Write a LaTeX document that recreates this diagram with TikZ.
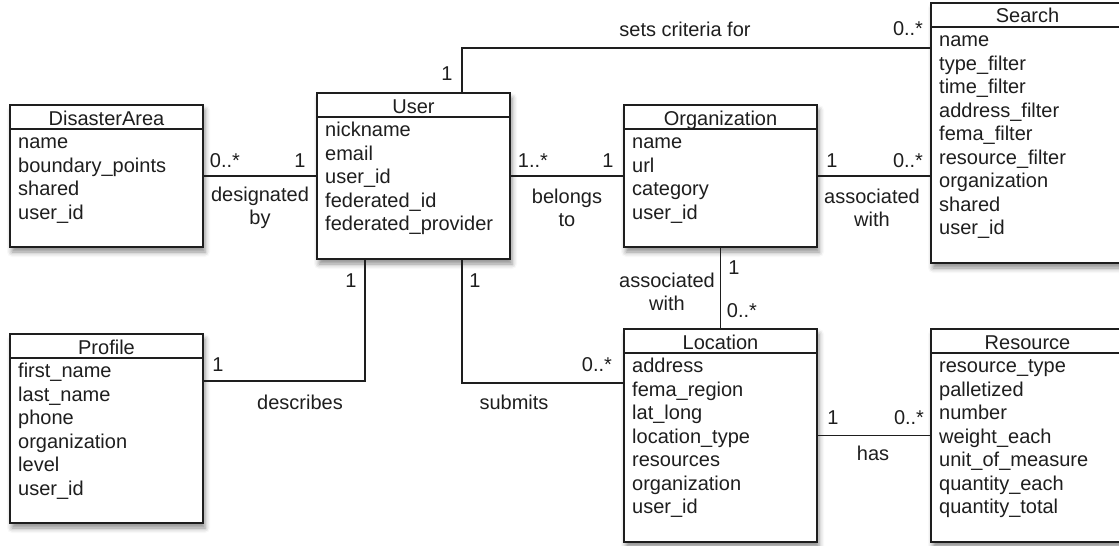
\documentclass[tikz,border=0pt]{standalone}
\usepackage{fontspec}
\setmainfont{Liberation Sans}
\usetikzlibrary{shadows.blur}
\definecolor{ink}{HTML}{1E1E1E}
\newcommand\umlfont{\fontsize{20}{23.5}\selectfont}
\tikzset{
  cls/.style={draw=ink, line width=1.8pt, fill=white, rectangle, inner sep=0pt, outer sep=0pt,
    minimum width=193pt,
    blur shadow={shadow xshift=2pt, shadow yshift=-5pt, shadow blur radius=5pt, shadow opacity=45}},
  hdr/.style={draw=ink, line width=1.6pt},
  ttl/.style={anchor=base, inner sep=0pt, text=ink, font=\umlfont},
  attr/.style={anchor=base west, inner sep=0pt, text=ink, font=\umlfont},
  conn/.style={draw=ink, line width=1.5pt},
  lbl/.style={inner sep=0pt, text=ink, font=\umlfont, align=center},
}
% #1 name, #2 x, #3 y, #4 height, #5 title, #6 attribute list
\newcommand\umlbox[6]{%
  \node[cls, minimum height=#4pt, anchor=north west] (#1) at (#2,#3) {};
  \draw[hdr] ([yshift=-24pt]#1.north west) -- ([yshift=-24pt]#1.north east);
  \node[ttl] (#1-title) at ([yshift=-20pt]#1.north) {#5};
  \foreach \t [count=\i, evaluate=\i as \yy using 43.5+(\i-1)*23.5] in {#6}
    \node[attr] (#1-\i) at ([xshift=8pt,yshift=-\yy pt]#1.north west) {\t};
}
\begin{document}
\begin{tikzpicture}[x=1pt,y=-1pt]
\useasboundingbox (0,0) rectangle (1119,546);

\coordinate (topturn) at (462,48);
\coordinate (pturn) at (365,381);
\coordinate (sturn) at (462,383);

\umlbox{da}{10}{105}{142}{DisasterArea}{name,boundary\_points,shared,user\_id}
\umlbox{user}{317}{93}{166}{User}{nickname,email,user\_id,federated\_id,federated\_provider}
\umlbox{org}{624}{105}{142}{Organization}{name,url,category,user\_id}
\umlbox{search}{931}{3}{260}{Search}{name,type\_filter,time\_filter,address\_filter,fema\_filter,resource\_filter,organization,shared,user\_id}
\umlbox{profile}{10}{334}{189}{Profile}{first\_name,last\_name,phone,organization,level,user\_id}
\umlbox{loc}{624}{329}{213}{Location}{address,fema\_region,lat\_long,location\_type,resources,organization,user\_id}
\umlbox{res}{931}{329}{213}{Resource}{resource\_type,palletized,number,weight\_each,unit\_of\_measure,quantity\_each,quantity\_total}

\draw[conn] (da.east) -- (user.west);
\draw[conn] (user.east) -- (org.west);
\draw[conn] (org.east) -- (org.east -| search.west);
\draw[conn] (user.north -| topturn) -- (topturn) -- (topturn -| search.west);
\draw[conn] (org.south) -- (loc.north);
\draw[conn] (user.south -| pturn) -- (pturn) -- (pturn -| profile.east);
\draw[conn] (user.south -| sturn) -- (sturn) -- (sturn -| loc.west);
\draw[conn] (loc.east) -- (res.west);

\node[lbl] (l1) at (225,161) {0..*};
\node[lbl] (l2) at (300,161) {1};
\node[lbl] (l3) at (260,208) {designated\\by};
\node[lbl] (l4) at (533,161) {1..*};
\node[lbl] (l5) at (608,161) {1};
\node[lbl] (l6) at (567,208) {belongs\\to};
\node[lbl] (l7) at (832,161) {1};
\node[lbl] (l8) at (908,161) {0..*};
\node[lbl] (l9) at (872,208) {associated\\with};
\node[lbl] (l10) at (685,29) {sets criteria for};
\node[lbl] (l11) at (908,29) {0..*};
\node[lbl] (l12) at (447,74) {1};
\node[lbl] (l13) at (734,268) {1};
\node[lbl] (l14) at (742,311) {0..*};
\node[lbl] (l15) at (667,292) {associated\\with};
\node[lbl] (l16) at (351,281) {1};
\node[lbl] (l17) at (218,365) {1};
\node[lbl] (l18) at (300,402) {describes};
\node[lbl] (l19) at (475,281) {1};
\node[lbl] (l20) at (597,365) {0..*};
\node[lbl] (l21) at (514,402) {submits};
\node[lbl] (l22) at (833,418) {1};
\node[lbl] (l23) at (909,418) {0..*};
\node[lbl] (l24) at (873,453) {has};
\end{tikzpicture}
\end{document}
